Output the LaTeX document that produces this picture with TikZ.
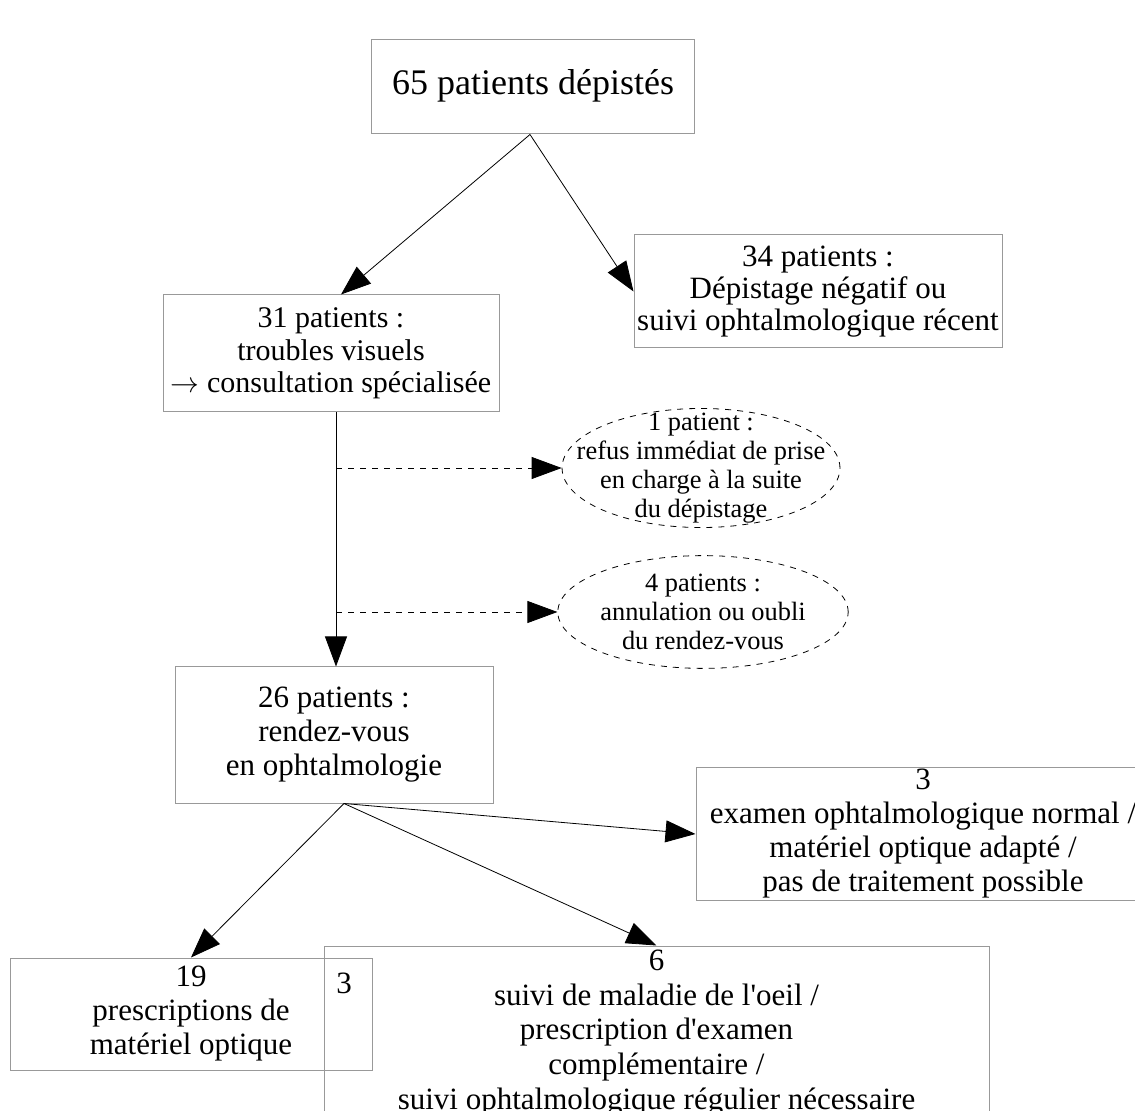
\documentclass[tikz,border=0pt]{standalone}
\usepackage{fontspec}
\setmainfont{Liberation Serif}
\usetikzlibrary{arrows.meta,shapes.geometric}
\begin{document}
\begin{tikzpicture}[x=0.5pt,y=-0.5pt,
	boite/.style={draw=gray!80,line width=0.5pt,align=center,inner sep=0pt,
		font=\fontsize{15.5}{17}\selectfont},
	bulle/.style={draw,dashed,ellipse,line width=0.4pt,align=center,inner sep=0pt,
		font=\fontsize{13.2}{14.5}\selectfont},
	fl/.style={-{Triangle[length=15pt,width=11pt]},line width=0.4pt}]%Schéma
	\useasboundingbox (0,0) rectangle (1135,1111);
	\node[boite,minimum width=161.5pt,minimum height=47pt,font=\fontsize{18}{20}\selectfont] (dep) at (533,87) {\raisebox{5pt}{65 patients dépistés}};
	\node[boite,minimum width=184pt,minimum height=56.5pt,font=\fontsize{15.5}{16.2}\selectfont] (neg) at (818,291.5) {34 patients :\\Dépistage négatif ou\\suivi ophtalmologique récent};
	\node[boite,minimum width=168pt,minimum height=58.5pt,font=\fontsize{15}{16.3}\selectfont] (vis) at (331,353.5) {31 patients :\\troubles visuels\\$\rightarrow$ consultation spécialisée};
	\node[bulle,inner xsep=-13pt,inner ysep=-6.5pt] (ref) at (701,468) {1 patient :\\refus immédiat de prise\\en charge à la suite\\du dépistage};
	\node[bulle,inner ysep=1pt] (ann) at (703,612) {4 patients :\\annulation ou oubli\\du rendez-vous};
	\node[boite,minimum width=159pt,minimum height=68pt] (rdv) at (334,735) {26 patients :\\rendez-vous\\en ophtalmologie};
	\node[boite,minimum width=227pt,minimum height=66pt] (nor) at (923,834) {3\\examen ophtalmologique normal /\\matériel optique adapté /\\pas de traitement possible};
	\node[boite,minimum width=181pt,minimum height=56pt] (pre) at (191,1014) {19\\prescriptions de\\matériel optique};
	\node[boite,minimum width=332.5pt,minimum height=87pt,font=\fontsize{15.5}{17.4}\selectfont] (mal) at (656.5,1033) {6\\suivi de maladie de l\textquotesingle oeil /\\prescription d\textquotesingle examen\\complémentaire /\\suivi ophtalmologique régulier nécessaire};
	\node[font=\fontsize{15.5}{17}\selectfont] (com) at (344,983) {3};
	%
	\draw[fl] ([xshift=-1.5pt]dep.south) -- ([xshift=5pt]vis.north);
	\draw[fl] ([xshift=-1.5pt]dep.south) -- (neg.west);
	\draw[fl] ([xshift=2.5pt]vis.south) -- ([xshift=2.5pt]vis.south |- rdv.north);
	\draw[fl,dashed] ([xshift=2.5pt]vis.south |- ref.west) -- (ref.west);
	\draw[fl,dashed] ([xshift=2.5pt]vis.south |- ann.west) -- (ann.west);
	\draw[fl] ([xshift=5pt]rdv.south) -- (pre.north);
	\draw[fl] ([xshift=5pt]rdv.south) -- (mal.north);
	\draw[fl] ([xshift=5pt]rdv.south) -- (nor.west);
\end{tikzpicture}
\end{document}
